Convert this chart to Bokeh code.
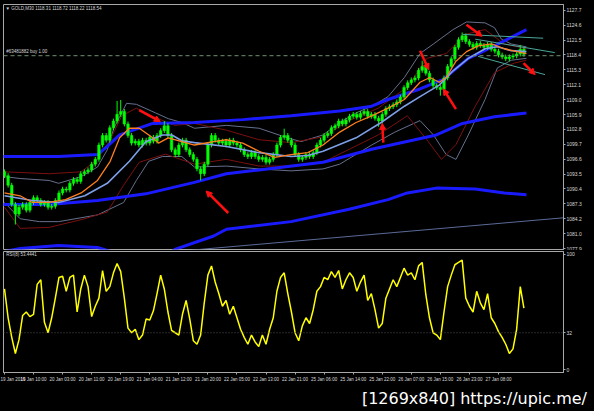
from bokeh.plotting import figure
from bokeh.layouts import column
from bokeh.models import (Range1d, FixedTicker, ColumnDataSource, Label, Arrow,
                          NormalHead, Span, Div)
from bokeh.embed import file_html
from bokeh.resources import INLINE

# ------------------------------------------------------------------ data
# hourly candles (index 0 = 19 Jan 02:00), closes
OPEN0 = 1094.0
CLOSE = [1093.2, 1091.2, 1087.2, 1085.2, 1086.6, 1087.2, 1086.0, 1087.6, 1088.6, 1088.0,
         1087.2, 1087.6, 1086.6, 1086.8, 1088.0, 1089.6, 1090.4, 1090.2, 1091.6, 1092.4,
         1092.0, 1093.6, 1094.0, 1094.4, 1095.6, 1096.6, 1099.6, 1101.6, 1100.6, 1103.2,
         1104.6, 1106.0, 1106.6, 1104.0, 1101.6, 1100.0, 1100.4, 1099.6, 1100.6, 1100.0,
         1101.2, 1100.4, 1101.6, 1102.6, 1103.6, 1101.6, 1098.6, 1097.6, 1099.6, 1100.6,
         1098.6, 1097.6, 1096.6, 1094.6, 1093.6, 1095.6, 1099.6, 1101.6, 1100.6, 1100.0,
         1100.4, 1099.6, 1100.6, 1100.0, 1099.6, 1098.6, 1097.6, 1097.2, 1098.0, 1097.2,
         1096.6, 1097.0, 1096.0, 1096.6, 1097.6, 1099.6, 1101.2, 1101.6, 1100.6, 1099.6,
         1097.6, 1096.6, 1097.0, 1097.6, 1097.2, 1098.0, 1099.6, 1100.6, 1101.6, 1102.0,
         1103.2, 1103.6, 1104.6, 1104.0, 1104.8, 1105.6, 1106.0, 1105.4, 1106.2, 1106.6,
         1105.6, 1106.0, 1105.2, 1104.6, 1106.0, 1107.2, 1107.6, 1108.0, 1108.6, 1109.6,
         1111.6, 1112.6, 1113.2, 1113.6, 1115.2, 1116.0, 1114.6, 1113.2, 1112.0, 1111.6,
         1111.2, 1113.6, 1116.0, 1117.6, 1120.0, 1121.6, 1122.4, 1121.2, 1120.6, 1120.0,
         1120.8, 1120.4, 1120.0, 1120.6, 1119.6, 1119.2, 1118.4, 1118.0, 1117.6, 1118.0,
         1118.2, 1118.6, 1119.6, 1118.54]
WICK = 0.5
HIGH_SPIKES = {31: 1108.8, 32: 1109.0, 44: 1104.6, 77: 1103.0, 115: 1117.2, 126: 1123.1, 142: 1120.5}
LOW_SPIKES = {3: 1083.0, 54: 1092.2, 103: 1103.4, 120: 1109.9}

RSI = [70, 45, 28, 14, 26, 47, 50, 46, 48, 74, 78, 41, 32, 45, 62, 80, 81, 68, 80, 82,
       50, 70, 82, 72, 46, 55, 62, 86, 68, 72, 84, 92, 85, 62, 36, 32, 35, 26, 30, 44,
       43, 51, 66, 82, 70, 50, 34, 32, 30, 48, 60, 44, 25,
       22, 30, 58, 82, 90, 76, 66,
       55, 60, 48, 55, 45, 35, 28, 22, 30, 24, 20, 30, 22, 35, 45, 68, 80, 84, 66, 50,
       32, 25, 38, 45, 40, 52, 68, 72, 80, 78, 85, 80, 86, 70, 78, 84, 80, 68, 76, 82,
       60, 66, 52, 36,
       40, 62, 70, 78, 72, 80, 88, 82, 84, 78, 90, 93, 65, 45, 32, 30, 26, 50, 72, 82,
       91, 93, 95, 62, 55, 50, 68, 58, 52, 66, 45, 40, 33, 28, 22, 14, 18, 35, 72, 53.4441]
RSI_LEVEL = 32

MA_FAST_X = [0, 4.3, 7.7, 12.3, 16.8, 21.1, 25.6, 29.1, 31.7, 34.4, 37.1, 40.8, 42.4, 45.1, 48.8,
             52.3, 57.6, 61.1, 65.6, 70.1, 74.4, 78.9, 83.5, 87.7, 92.3, 96.8, 101.1, 105.6, 110.1,
             114.4, 117.1, 119.7, 121.6, 124.3, 127.2, 130.4, 134.1, 137.6, 141.1, 143.7]
MA_FAST_Y = [1089.6, 1089.0, 1087.6, 1087.6, 1088.2, 1089.6, 1092.2, 1096.2, 1101.1, 1103.1,
             1103.1, 1101.1, 1100.0, 1101.1, 1100.3, 1099.6, 1100.3, 1100.7, 1100.0, 1098.3,
             1097.0, 1097.6, 1098.0, 1099.6, 1102.3, 1104.3, 1105.7, 1107.3, 1109.1, 1112.7,
             1113.7, 1112.7, 1113.7, 1117.1, 1119.1, 1120.3, 1120.7, 1119.7, 1119.1, 1118.7]

MA_SLOW_X = [0, 7.7, 14.9, 22.1, 28.3, 34.4, 38.9, 43.5, 46.1, 48.8, 52.3, 61.1, 70.1, 78.9,
             83.5, 87.7, 96.8, 103.7, 110.1, 114.4, 119.7, 123.5, 127.7, 132.3, 135.7, 139.5, 143.7]
MA_SLOW_Y = [1089.0, 1088.0, 1087.6, 1089.0, 1091.6, 1096.2, 1100.3, 1101.7, 1101.7, 1100.5,
             1100.1, 1099.3, 1098.0, 1097.2, 1097.4, 1098.3, 1101.1, 1104.3, 1107.7, 1109.7,
             1112.1, 1115.1, 1117.7, 1119.7, 1120.1, 1119.3, 1119.1]

BB_UP_X = [0, 4.3, 12.3, 14.9, 21.1, 25.6, 28.3, 30.1, 33.6, 36.3, 41.6, 45.1, 48.8, 52.3, 61.1,
           70.1, 77.1, 81.6, 87.7, 92.3, 96.8, 101.1, 105.6, 110.1, 114.4, 118.1, 123.5, 127.2,
           132.3, 134.9, 136.8, 139.5, 143.7]
BB_UP_Y = [1093.0, 1092.6, 1092.2, 1091.6, 1093.0, 1095.0, 1098.6, 1103.1, 1108.3, 1108.1,
           1106.3, 1105.1, 1104.3, 1103.1, 1103.7, 1103.1, 1101.3, 1100.3, 1101.7, 1104.3,
           1106.3, 1107.7, 1109.7, 1113.7, 1118.7, 1120.7, 1123.7, 1125.3, 1125.1, 1124.1,
           1121.7, 1120.7, 1120.1]
BB_LO_X = [0, 4.3, 9.6, 14.9, 25.6, 32.8, 36.3, 39.7, 43.5, 48.8, 52.3, 61.1, 70.1, 78.9, 87.7,
           92.3, 101.1, 107.5, 114.4, 118.1, 121.6, 124.3, 127.7, 132.3, 135.7, 139.5, 143.7]
BB_LO_Y = [1087.6, 1084.2, 1083.6, 1083.6, 1085.0, 1087.6, 1092.2, 1096.2, 1097.2, 1097.2,
           1095.0, 1095.2, 1094.6, 1094.2, 1094.6, 1095.6, 1099.6, 1102.3, 1104.7, 1101.7,
           1097.6, 1096.6, 1101.7, 1109.1, 1115.7, 1117.3, 1117.7]

RED_UP_X = [0, 12.3, 21.1, 25.6, 29.1, 32.3, 36.3, 41.6, 46.9, 52.3, 61.1, 70.1, 78.9, 87.7,
            94.9, 102.9, 110.9, 116.3, 121.6, 126.9, 132.3, 137.6, 143.7]
RED_UP_Y = [1094.0, 1093.6, 1094.0, 1096.6, 1100.7, 1105.7, 1107.3, 1105.3, 1103.7, 1104.1,
            1102.7, 1100.7, 1100.1, 1101.3, 1104.7, 1107.3, 1111.7, 1117.7, 1118.7, 1122.7,
            1123.7, 1120.7, 1119.7]
RED_LO_X = [0, 4.3, 12.3, 21.1, 28.3, 32.8, 37.1, 44.3, 52.3, 61.1, 70.1, 78.9, 87.7, 94.9,
            102.9, 110.9, 116.3, 120.3, 124.3, 129.6, 134.9, 140.3, 143.7]
RED_LO_Y = [1086.6, 1082.2, 1082.4, 1084.0, 1085.6, 1091.2, 1096.0, 1097.7, 1095.6, 1096.6,
            1095.2, 1095.2, 1096.0, 1098.7, 1101.7, 1105.7, 1100.7, 1096.6, 1099.7, 1107.7,
            1114.7, 1116.7, 1117.3]

BLUE_A_X = [-1.07, 14.9, 25.6, 28.3, 31.7, 40.8, 52.3, 65.6, 78.9, 92.3, 101.1, 105.6, 114.4,
            120.8, 127.7, 134.9, 143.7]
BLUE_A_Y = [1097.2, 1097.2, 1097.6, 1099.3, 1101.7, 1104.1, 1104.3, 1104.9, 1105.7, 1106.7,
            1107.7, 1109.1, 1111.3, 1113.3, 1117.7, 1120.3, 1123.7]
BLUE_B_X = [-1.07, 12.3, 25.6, 38.9, 52.3, 61.1, 70.1, 87.7, 101.1, 118.9, 126.1, 134.9, 143.7]
BLUE_B_Y = [1087.2, 1087.2, 1088.0, 1089.4, 1091.8, 1093.6, 1094.4, 1096.0, 1098.7, 1101.7,
            1104.1, 1105.5, 1106.3]
BLUE_C_X = [-1.07, 4.3, 14.9, 25.6, 30.9, 45.6, 46.9, 57.6, 61.1, 78.9, 94.9, 105.6, 110.9,
            118.9, 129.6, 137.6, 143.7]
BLUE_C_Y = [1077.2, 1078.0, 1078.6, 1078.2, 1077.0, 1077.0, 1077.8, 1080.6, 1082.0, 1083.6,
            1086.2, 1088.2, 1089.6, 1090.6, 1090.4, 1089.6, 1089.2]

TREND_X = [50, 153.9]
TREND_Y = [1077.55, 1084.4]

TEAL_X0 = [126.1, 129.6, 130.4]
TEAL_Y0 = [1122.7, 1121.7, 1118.1]
TEAL_X1 = [148.3, 151.5, 148.8]
TEAL_Y1 = [1121.9, 1118.9, 1114.3]

ARROW_X0 = [37.1, 61.6, 104.3, 114.4, 124.3, 127.2, 142.9]
ARROW_Y0 = [1106.9, 1085.4, 1100.1, 1119.3, 1107.1, 1124.7, 1116.7]
ARROW_X1 = [42.9, 55.5, 104.0, 116.8, 120.8, 131.5, 146.1]
ARROW_Y1 = [1104.5, 1090.0, 1104.1, 1115.3, 1111.3, 1122.3, 1114.3]

ORDER_PRICE = 1118.25
BID = 1118.54

PRICE_TICKS = [1077.98, 1081.09, 1084.20, 1087.31, 1090.42, 1093.53, 1096.64, 1099.75, 1102.86,
               1105.97, 1109.08, 1112.19, 1115.30, 1118.41, 1121.52, 1124.63, 1127.74]
PRICE_LABELS = ["1077.9", "1081.0", "1084.2", "1087.3", "1090.4", "1093.5", "1096.6", "1099.7",
                "1102.8", "1105.9", "1109.0", "1112.1", "1115.3", "1118.4", "1121.5", "1124.6",
                "1127.7"]
RSI_TICKS = [0, 32, 100]
TIME_TICKS = [0, 8, 16, 24, 32, 40, 48, 56, 64, 72, 80, 88, 96, 104, 112, 120, 128, 136]
TIME_LABELS = ["19 Jan 2016", "19 Jan 10:00", "20 Jan 03:00", "20 Jan 11:00", "20 Jan 19:00",
               "21 Jan 04:00", "21 Jan 12:00", "21 Jan 20:00", "22 Jan 05:00", "22 Jan 13:00",
               "22 Jan 21:00", "25 Jan 06:00", "25 Jan 14:00", "25 Jan 22:00", "26 Jan 07:00",
               "26 Jan 15:00", "26 Jan 23:00", "27 Jan 08:00"]

HEADER = "\u25bc GOLD,M30  1118.31 1118.72 1118.22 1118.54"
ORDER_TEXT = "#63481882 buy 1.00"
RSI_TEXT = "RSI(8) 53.4441"
BID_TEXT = "1118.5"
WATERMARK = "[1269x840] https://upic.me/"

# ------------------------------------------------------------------ styling
BG = "black"
FRAME = "#a8a8a8"
LBL = "#d8d8d8"
FONT = "Liberation Sans"

x_range = Range1d(-0.27, 153.9)

main = figure(width=584, height=250, x_range=x_range, y_range=Range1d(1077.78, 1128.94),
              output_backend="svg", toolbar_location=None, title=None,
              x_axis_location=None, y_axis_location="right",
              min_border_left=3, min_border_right=21, min_border_top=4, min_border_bottom=1,
              background_fill_color=BG, border_fill_color=BG,
              outline_line_color=FRAME, outline_line_width=1)
main.grid.grid_line_color = None

rsi = figure(width=584, height=136, x_range=x_range, y_range=Range1d(-2.5, 102.5),
             output_backend="svg", toolbar_location=None, title=None,
             y_axis_location="right",
             min_border_left=3, min_border_right=21, min_border_top=1, min_border_bottom=14,
             background_fill_color=BG, border_fill_color=BG,
             outline_line_color=FRAME, outline_line_width=1)
rsi.grid.grid_line_color = None

for ax in (main.yaxis[0], rsi.yaxis[0], rsi.xaxis[0]):
    ax.major_label_text_font = FONT
    ax.major_label_text_color = LBL
    ax.major_tick_out = 2
    ax.major_tick_in = 0
    ax.major_tick_line_color = FRAME
    ax.minor_tick_line_color = None
    ax.axis_line_color = FRAME
    ax.major_label_standoff = 2

ya = main.yaxis[0]
ya.ticker = FixedTicker(ticks=PRICE_TICKS)
ya.major_label_overrides = dict(zip(PRICE_TICKS, PRICE_LABELS))
ya.major_label_text_font_size = "5px"
ya.major_label_standoff = 1

ry = rsi.yaxis[0]
ry.ticker = FixedTicker(ticks=RSI_TICKS)
ry.major_label_text_font_size = "5px"
ry.major_label_standoff = 1

rx = rsi.xaxis[0]
rx.ticker = FixedTicker(ticks=TIME_TICKS)
rx.major_label_overrides = dict(zip(TIME_TICKS, TIME_LABELS))
rx.major_label_text_font_size = "4.5px"
rx.major_label_text_align = "left"

# ------------------------------------------------------------------ candles
idx = list(range(len(CLOSE)))
opens = [OPEN0] + CLOSE[:-1]
highs = [HIGH_SPIKES.get(i, max(o, c) + WICK) for i, (o, c) in enumerate(zip(opens, CLOSE))]
lows = [LOW_SPIKES.get(i, min(o, c) - WICK) for i, (o, c) in enumerate(zip(opens, CLOSE))]
csrc = ColumnDataSource(dict(x=idx, h=highs, l=lows,
                             top=[max(o, c) for o, c in zip(opens, CLOSE)],
                             bot=[min(o, c) for o, c in zip(opens, CLOSE)]))

# bands / envelopes
main.line(BB_UP_X, BB_UP_Y, line_color="#66708c", line_width=1)
main.line(BB_LO_X, BB_LO_Y, line_color="#66708c", line_width=1)
main.line(RED_UP_X, RED_UP_Y, line_color="#7a1010", line_width=1)
main.line(RED_LO_X, RED_LO_Y, line_color="#7a1010", line_width=1)
main.line(TREND_X, TREND_Y, line_color="#5a6a98", line_width=1)

# higher timeframe thick blue lines
for xs, ys in ((BLUE_A_X, BLUE_A_Y), (BLUE_B_X, BLUE_B_Y), (BLUE_C_X, BLUE_C_Y)):
    main.line(xs, ys, line_color="#1a1aff", line_width=3)

main.segment(x0="x", y0="h", x1="x", y1="l", source=csrc, line_color="#00ff00", line_width=1)
main.vbar(x="x", width=0.7, top="top", bottom="bot", source=csrc,
          fill_color="#00ff00", line_color="#00ff00", line_width=0.5)

main.line(MA_SLOW_X, MA_SLOW_Y, line_color="#7d9fe6", line_width=1.6)
main.line(MA_FAST_X, MA_FAST_Y, line_color="#ff7f1e", line_width=1.3)

main.segment(x0=TEAL_X0, y0=TEAL_Y0, x1=TEAL_X1, y1=TEAL_Y1, line_color="#4aa79c", line_width=1)

main.add_layout(Span(location=ORDER_PRICE, dimension="width", line_color="#6f8f6f",
                     line_dash="4 3", line_width=1))

asrc = ColumnDataSource(dict(x0=ARROW_X0, y0=ARROW_Y0, x1=ARROW_X1, y1=ARROW_Y1))
main.add_layout(Arrow(end=NormalHead(size=6, fill_color="#ff1010", line_color="#ff1010"),
                      source=asrc, x_start="x0", y_start="y0", x_end="x1", y_end="y1",
                      line_color="#ff1010", line_width=2.5))

main.add_layout(Label(x=0.3, y=1128.1, text=HEADER, text_font=FONT, text_font_size="4.5px",
                      text_color=LBL, text_baseline="middle"))
main.add_layout(Label(x=0.5, y=ORDER_PRICE + 0.35, text=ORDER_TEXT, text_font=FONT,
                      text_font_size="4.5px", text_color=LBL, text_baseline="bottom"))
main.add_layout(Label(x=153.9, y=BID, x_offset=2, text=BID_TEXT, text_font=FONT,
                      text_font_size="5px", text_color="black", text_baseline="middle",
                      background_fill_color="white", padding=1))

# ------------------------------------------------------------------ RSI panel
rsi.add_layout(Span(location=RSI_LEVEL, dimension="width", line_color="#505050",
                    line_dash="1 2", line_width=1))
rsi.line(idx, RSI, line_color="#ffff00", line_width=1.5)
rsi.add_layout(Label(x=0.5, y=99.6, text=RSI_TEXT, text_font=FONT, text_font_size="4.5px",
                     text_color=LBL, text_baseline="middle"))

# ------------------------------------------------------------------ watermark strip
mark = Div(text=WATERMARK, width=584, height=15,
           styles={"background-color": "black", "color": "white",
                   "font-family": "DejaVu Sans", "font-size": "16px",
                   "line-height": "15px", "text-align": "right",
                   "padding-right": "2px", "box-sizing": "border-box",
                   "white-space": "nowrap"})

layout = column(main, rsi, mark, spacing=0, styles={"background-color": "black"})
open("out.html", "w").write(file_html(layout, INLINE))
